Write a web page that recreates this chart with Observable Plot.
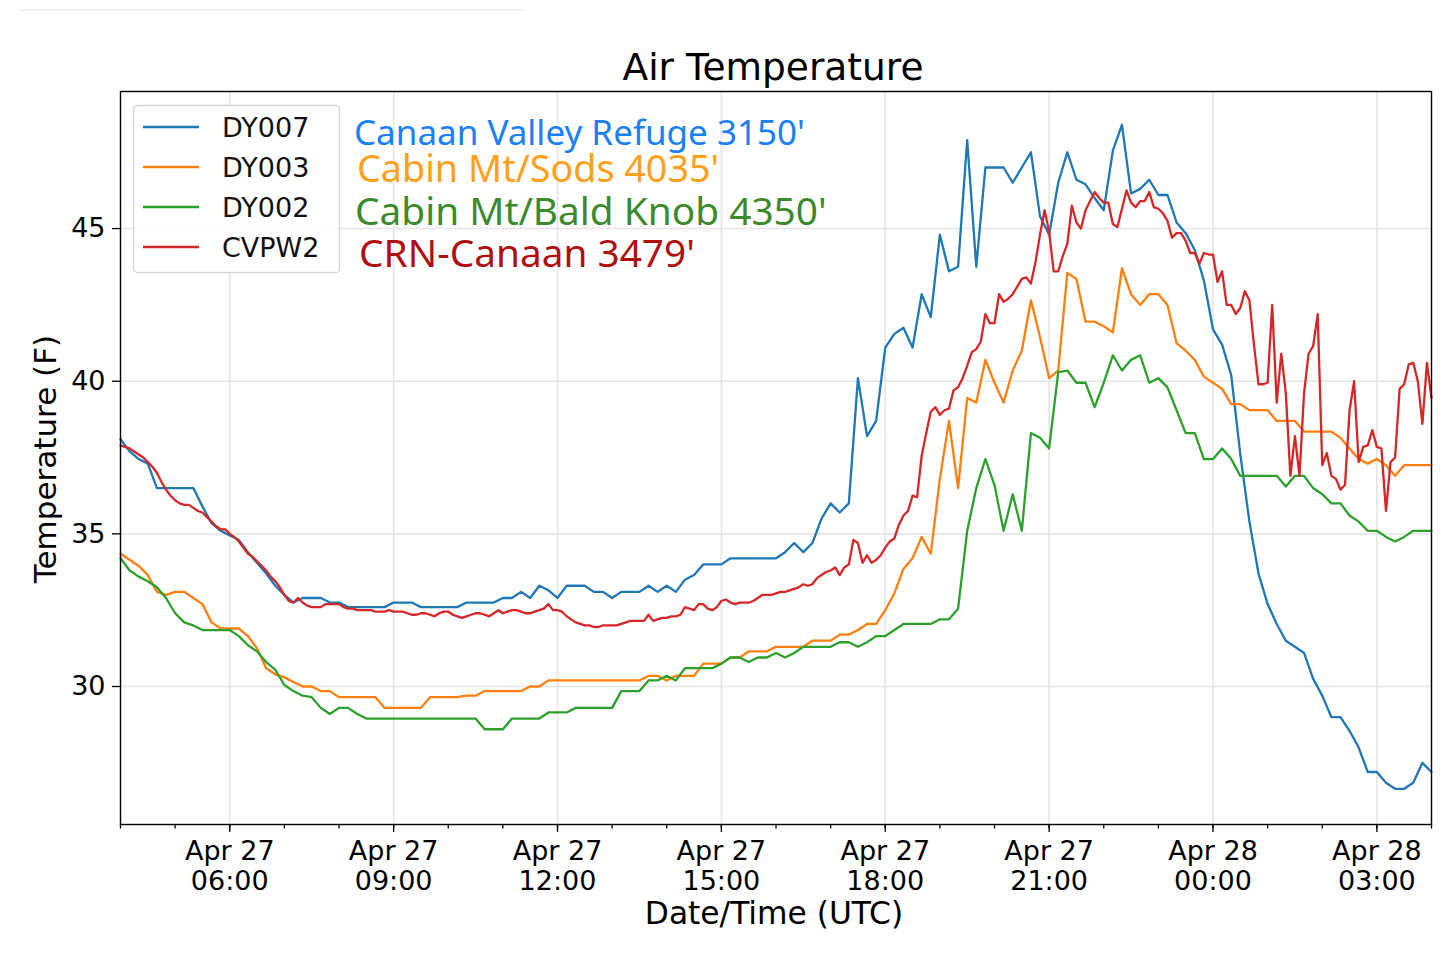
<!DOCTYPE html>
<html><head><meta charset="utf-8">
<script src="https://cdn.jsdelivr.net/npm/d3@7"></script>
<script src="https://cdn.jsdelivr.net/npm/@observablehq/plot@0.6"></script>
<style>
body{margin:0;background:#fff;}
#wrap{position:relative;width:1440px;height:959px;overflow:hidden;background:#fff;}
#wrap svg.overlay{position:absolute;left:0;top:0;pointer-events:none;}
</style></head><body><div id="wrap"></div>
<script>
// ---- data (°F) ----
const startTime = "2018-04-27T04:00:00Z";
const endTime = "2018-04-28T04:00:00Z";
const stepDY = 10;    // minutes between DY station readings
const stepCRN = 5;    // minutes between CVPW2 readings
const stations = ["DY007", "DY003", "DY002", "CVPW2"];
const stationColors = ["#1f77b4", "#ff7f0e", "#2ca02c", "#d62728"];
const siteNames = ["Canaan Valley Refuge 3150'", "Cabin Mt/Sods 4035'", "Cabin Mt/Bald Knob 4350'", "CRN-Canaan 3479'"];
const siteColors = ["#1a80f5", "#fea01a", "#3c8a2c", "#b00f0f"];
const yTicks = [30, 35, 40, 45];
const yDomain = [25.48, 49.49];
const xTickTimes = ["2018-04-27T06:00Z","2018-04-27T09:00Z","2018-04-27T12:00Z","2018-04-27T15:00Z","2018-04-27T18:00Z","2018-04-27T21:00Z","2018-04-28T00:00Z","2018-04-28T03:00Z"];

const dy007 = [38.1,37.7,37.45,37.3,36.5,36.5,36.5,36.5,36.5,35.9,
35.35,35.1,34.95,34.8,34.4,34.05,33.7,33.3,33.0,32.75,
32.9,32.9,32.9,32.75,32.75,32.6,32.6,32.6,32.6,32.6,
32.75,32.75,32.75,32.6,32.6,32.6,32.6,32.6,32.75,32.75,
32.75,32.75,32.9,32.9,33.1,32.9,33.3,33.15,32.9,33.3,
33.3,33.3,33.1,33.1,32.9,33.1,33.1,33.1,33.3,33.1,
33.3,33.1,33.5,33.65,34.0,34.0,34.0,34.2,34.2,34.2,
34.2,34.2,34.2,34.4,34.7,34.4,34.7,35.5,36.0,35.7,
36.0,40.1,38.2,38.7,41.1,41.55,41.75,41.1,42.85,42.1,
44.8,43.6,43.75,47.9,43.75,47.0,47.0,47.0,46.5,47.0,
47.5,45.4,44.8,46.5,47.5,46.6,46.45,46.0,45.6,47.55,
48.4,46.15,46.3,46.6,46.1,46.1,45.2,44.85,44.3,43.3,
41.7,41.2,40.2,37.6,35.4,33.7,32.7,32.05,31.5,31.3,
31.1,30.25,29.7,29.0,29.0,28.55,28.0,27.2,27.2,26.85,
26.65,26.65,26.85,27.5,27.2];

const dy003 = [34.35,34.15,33.95,33.65,33.1,33.0,33.1,33.1,32.9,32.7,
32.1,31.9,31.9,31.9,31.65,31.25,30.6,30.4,30.3,30.15,
30.0,30.0,29.85,29.85,29.65,29.65,29.65,29.65,29.65,29.3,
29.3,29.3,29.3,29.3,29.65,29.65,29.65,29.65,29.7,29.7,
29.85,29.85,29.85,29.85,29.85,30.0,30.0,30.2,30.2,30.2,
30.2,30.2,30.2,30.2,30.2,30.2,30.2,30.2,30.35,30.35,
30.2,30.35,30.35,30.35,30.75,30.75,30.75,30.95,30.95,31.15,
31.15,31.15,31.3,31.3,31.3,31.3,31.5,31.5,31.5,31.7,
31.7,31.85,32.05,32.05,32.5,33.05,33.85,34.2,34.9,34.35,
36.8,38.7,36.5,39.45,39.3,40.7,39.95,39.3,40.35,41.0,
42.65,41.45,40.1,40.35,43.55,43.35,41.95,41.95,41.8,41.6,
43.7,42.85,42.5,42.85,42.85,42.5,41.25,41.0,40.7,40.15,
39.95,39.75,39.25,39.25,39.05,39.05,39.05,38.7,38.7,38.7,
38.35,38.35,38.35,38.35,38.15,37.8,37.45,37.3,37.45,37.25,
36.9,37.25,37.25,37.25,37.25];

const dy002 = [34.2,33.8,33.6,33.45,33.25,32.9,32.4,32.1,32.0,31.85,
31.85,31.85,31.85,31.65,31.35,31.15,30.8,30.55,30.05,29.85,
29.7,29.65,29.3,29.1,29.3,29.3,29.1,28.95,28.95,28.95,
28.95,28.95,28.95,28.95,28.95,28.95,28.95,28.95,28.95,28.95,
28.6,28.6,28.6,28.95,28.95,28.95,28.95,29.15,29.15,29.15,
29.3,29.3,29.3,29.3,29.3,29.85,29.85,29.85,30.2,30.2,
30.35,30.2,30.6,30.6,30.6,30.6,30.75,30.95,30.95,30.8,
30.95,30.95,31.1,30.95,31.1,31.3,31.3,31.3,31.3,31.45,
31.45,31.3,31.45,31.65,31.65,31.85,32.05,32.05,32.05,32.05,
32.2,32.2,32.55,35.1,36.5,37.45,36.6,35.1,36.3,35.1,
38.3,38.15,37.8,40.3,40.35,39.95,39.95,39.15,39.95,40.85,
40.35,40.7,40.85,39.95,40.1,39.8,39.05,38.3,38.3,37.45,
37.45,37.8,37.45,36.9,36.9,36.9,36.9,36.9,36.55,36.9,
36.9,36.5,36.3,36.0,36.0,35.6,35.4,35.1,35.1,34.9,
34.75,34.9,35.1,35.1,35.1];

const cvpw2 = [37.9,37.85,37.8,37.7,37.6,37.5,37.35,37.2,37.0,36.7,
36.45,36.25,36.1,36.0,35.95,35.95,35.85,35.75,35.7,35.55,
35.4,35.25,35.15,35.15,35.0,34.9,34.75,34.55,34.35,34.25,
34.1,33.95,33.8,33.6,33.45,33.25,33.0,32.8,32.75,32.9,
32.75,32.65,32.6,32.6,32.6,32.7,32.7,32.7,32.7,32.6,
32.55,32.55,32.5,32.5,32.5,32.5,32.45,32.45,32.45,32.5,
32.45,32.45,32.45,32.4,32.35,32.35,32.4,32.4,32.35,32.3,
32.4,32.45,32.45,32.35,32.3,32.25,32.3,32.35,32.4,32.4,
32.35,32.3,32.4,32.5,32.4,32.45,32.5,32.5,32.45,32.4,
32.4,32.45,32.5,32.55,32.7,32.5,32.5,32.45,32.3,32.2,
32.1,32.05,32.0,32.0,31.95,31.95,32.0,32.0,32.0,32.0,
32.05,32.1,32.15,32.15,32.15,32.15,32.35,32.15,32.2,32.25,
32.25,32.3,32.3,32.35,32.6,32.55,32.5,32.7,32.7,32.55,
32.5,32.6,32.8,32.85,32.75,32.7,32.75,32.75,32.75,32.8,
32.9,33.0,33.0,33.0,33.05,33.1,33.1,33.15,33.2,33.25,
33.35,33.3,33.35,33.55,33.65,33.75,33.8,33.9,33.65,33.9,
34.0,34.8,34.7,34.05,34.3,34.05,34.15,34.3,34.55,34.75,
34.85,35.3,35.6,35.75,36.25,36.2,37.55,38.3,39.0,39.15,
38.9,39.05,39.1,39.7,39.8,40.1,40.5,40.95,41.05,41.3,
42.2,41.9,41.9,42.85,42.6,42.7,42.85,43.1,43.35,43.4,
43.2,43.9,44.8,45.6,44.9,43.6,43.6,44.1,44.5,45.75,
45.2,45.0,45.6,45.9,46.2,46.0,45.85,45.85,45.15,45.05,
45.65,46.25,45.85,45.7,45.9,45.9,46.2,45.7,45.65,45.5,
45.25,44.7,44.85,44.85,44.6,44.2,44.2,43.85,44.2,44.15,
44.15,43.25,43.6,42.5,42.5,42.2,42.4,42.95,42.65,41.2,
39.9,39.9,39.95,42.5,39.3,40.9,39.6,36.9,38.2,36.9,
39.6,40.9,41.15,42.2,37.25,37.65,36.9,36.8,36.45,36.6,
39.05,40.0,37.35,37.85,37.9,38.4,37.85,37.8,35.75,37.35,
37.5,39.75,39.9,40.55,40.6,40.0,38.6,40.6,39.45];

// ---- build rows ----
const t0 = new Date(startTime), t1 = new Date(endTime);
const rows = (vals, stepMin, station) =>
  vals.map((v, i) => ({time: new Date(+t0 + i * stepMin * 60000), temp: v, station}));
const series = [
  rows(dy007, stepDY, stations[0]),
  rows(dy003, stepDY, stations[1]),
  rows(dy002, stepDY, stations[2]),
  rows(cvpw2, stepCRN, stations[3])
];
const majorTicks = xTickTimes.map(s => new Date(s));
const minorTicks = d3.utcHour.range(t0, new Date(+t1 + 1));
const fmtTick = d3.utcFormat("%b %d\n%H:%M");

const W = 1440, H = 959;
const FONT = "'DejaVu Sans', sans-serif";

const chart = Plot.plot({
  width: W, height: H,
  marginLeft: 120, marginRight: 9, marginTop: 91, marginBottom: 135,
  x: {type: "utc", domain: [t0, t1]},
  y: {domain: yDomain},
  style: {fontFamily: FONT, color: "#000", background: "#fff", overflow: "visible"},
  marks: [
    Plot.gridX(majorTicks, {stroke: "#e6e6e6", strokeOpacity: 1, strokeWidth: 1.6}),
    Plot.gridY(yTicks, {stroke: "#e6e6e6", strokeOpacity: 1, strokeWidth: 1.6}),
    ...series.map((s, k) => Plot.line(s, {x: "time", y: "temp", stroke: stationColors[k], strokeWidth: 2.3})),
    Plot.frame({stroke: "#000", strokeWidth: 1.4}),
    Plot.axisX(minorTicks, {anchor: "bottom", tickSize: 4.5, tickFormat: () => "", label: null, strokeWidth: 1.3}),
    Plot.axisX(majorTicks, {anchor: "bottom", tickSize: 8, tickPadding: 6, tickFormat: fmtTick,
      fontSize: 27, lineHeight: 1.11, label: null, strokeWidth: 1.3}),
    Plot.axisY(yTicks, {anchor: "left", tickSize: 8, tickPadding: 7, fontSize: 27, label: null, strokeWidth: 1.3})
  ]
});
const wrap = document.getElementById("wrap");
wrap.appendChild(chart);

// ---- overlay: title, axis labels, legend, site annotations ----
const ns = "http://www.w3.org/2000/svg";
const ov = d3.select(wrap).append("svg").attr("class", "overlay")
  .attr("width", W).attr("height", H).attr("xmlns", ns);

ov.append("line").attr("x1", 20).attr("x2", 525).attr("y1", 10).attr("y2", 10)
  .attr("stroke", "#efefef").attr("stroke-width", 1.5);

ov.append("text").attr("x", 773).attr("y", 80).attr("text-anchor", "middle")
  .attr("font-family", FONT).attr("font-size", 37.5).attr("fill", "#000").text("Air Temperature");
ov.append("text").attr("x", 774).attr("y", 924).attr("text-anchor", "middle")
  .attr("font-family", FONT).attr("font-size", 31.3).attr("fill", "#000").text("Date/Time (UTC)");
ov.append("text").attr("transform", "translate(56,459) rotate(-90)").attr("text-anchor", "middle")
  .attr("font-family", FONT).attr("font-size", 31).attr("fill", "#000").text("Temperature (F)");

// legend
ov.append("rect").attr("x", 133.5).attr("y", 105.5).attr("width", 206).attr("height", 167)
  .attr("rx", 4).attr("fill", "rgba(255,255,255,0.85)").attr("stroke", "#d4d4d4").attr("stroke-width", 1.3);
stations.forEach((s, k) => {
  const cy = 127 + k * 40;
  ov.append("line").attr("x1", 143).attr("x2", 199).attr("y1", cy).attr("y2", cy)
    .attr("stroke", stationColors[k]).attr("stroke-width", 2.3);
  ov.append("text").attr("x", 222).attr("y", cy + 10).attr("font-family", FONT)
    .attr("font-size", 27).attr("fill", "#111").text(s);
});

// site annotations
const annX = [354, 357, 355, 359];
const annY = [145, 182, 225, 267];
const annSize = [35, 37.7, 38.8, 38.8];
siteNames.forEach((name, k) => {
  ov.append("text").attr("x", annX[k]).attr("y", annY[k]).attr("font-family", "'Noto Sans', sans-serif")
    .attr("font-size", annSize[k]).attr("fill", siteColors[k]).text(name);
});
</script>
</body></html>
